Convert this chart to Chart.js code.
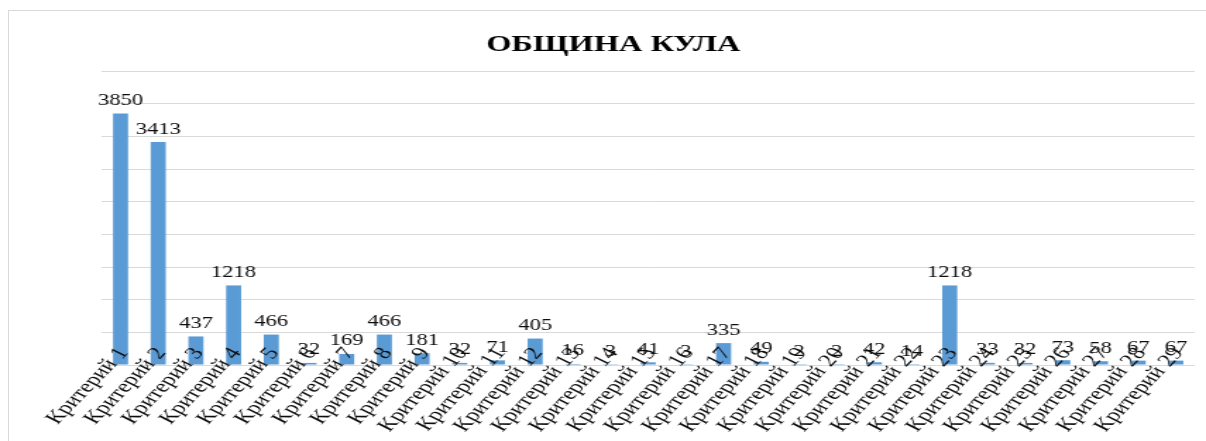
<!DOCTYPE html>
<html>
<head>
<meta charset="utf-8">
<script src="https://cdn.jsdelivr.net/npm/chart.js@4.4.1/dist/chart.umd.min.js"></script>
<style>
  html, body { margin: 0; padding: 0; background: #fff; overflow: hidden; }
  body { width: 1206px; height: 441px; position: relative; }
  #frame { position: absolute; left: 8px; top: 10px; width: 1400px; height: 600px; border: 1px solid #d9d9d9; }
  /* the original picture is stretched sideways, so the chart is drawn narrow and widened */
  #wrap { position: absolute; left: 0; top: 0; width: 855px; height: 441px; transform: scaleX(1.4105); transform-origin: 0 0; }
</style>
</head>
<body>
<div id="frame"></div>
<div id="wrap"><canvas id="myChart"></canvas></div>
<script>
const title = 'ОБЩИНА КУЛА';
const criteria = ['Критерий 1','Критерий 2','Критерий 3','Критерий 4','Критерий 5','Критерий 6','Критерий 7',
  'Критерий 8','Критерий 9','Критерий 10','Критерий 11','Критерий 12','Критерий 13','Критерий 14',
  'Критерий 15','Критерий 16','Критерий 17','Критерий 18','Критерий 19','Критерий 20','Критерий 21',
  'Критерий 22','Критерий 23','Критерий 24','Критерий 25','Критерий 26','Критерий 27','Критерий 28','Критерий 29'];
const values = [3850,3413,437,1218,466,32,169,466,181,32,71,405,16,3,41,3,335,49,2,2,42,14,1218,33,32,73,58,67,67];
const yMax = 4500;
const yStep = 500;

const serif = '"Liberation Serif", "Times New Roman", serif';

// value labels above the bars + category labels (they run up into the bars, so drawn here)
const barText = {
  id: 'barText',
  afterDraw(chart){
    const ctx = chart.ctx;
    const meta = chart.getDatasetMeta(0);
    const xScale = chart.scales.x;
    ctx.save();
    ctx.fillStyle = '#0d0d0d';

    ctx.font = '18px ' + serif;
    ctx.textAlign = 'right';
    ctx.textBaseline = 'middle';
    criteria.forEach((name, i) => {
      const x = xScale.getPixelForTick(i);
      ctx.save();
      ctx.translate(x + 2, xScale.top - 15);
      ctx.rotate(-55 * Math.PI / 180);
      ctx.fillText(name, 0, 0);
      ctx.restore();
    });

    ctx.font = '16px ' + serif;
    ctx.textAlign = 'center';
    ctx.textBaseline = 'alphabetic';
    meta.data.forEach((bar, i) => {
      ctx.fillText(String(values[i]), bar.x, bar.y - 8.5);
    });
    ctx.restore();
  }
};

function chartBar(){
  const ctx = document.getElementById('myChart');
  new Chart(ctx, {
    type: 'bar',
    data: {
      labels: criteria,
      datasets: [{
        data: values,
        backgroundColor: '#5b9bd5',
        barPercentage: 0.4,
        categoryPercentage: 1.0
      }]
    },
    options: {
      responsive: true,
      maintainAspectRatio: false,
      animation: false,
      layout: { padding: { left: 22.6, right: 8, top: 0, bottom: 0 } },
      plugins: {
        legend: { display: false },
        tooltip: { enabled: false },
        title: {
          display: true,
          text: title,
          color: '#000',
          font: { family: serif, size: 23, weight: 'bold' },
          padding: { top: 31, bottom: 12.4 }
        }
      },
      scales: {
        x: {
          grid: { display: false, drawTicks: false },
          border: { display: false },
          ticks: { display: false, autoSkip: false },
          afterFit(scale){ scale.height = 76; }
        },
        y: {
          min: 0,
          max: yMax,
          ticks: { display: false, stepSize: yStep },
          grid: { color: '#d9d9d9', lineWidth: 1, drawTicks: false },
          border: { display: false },
          afterFit(scale){ scale.width = 49.5; }
        }
      }
    },
    plugins: [barText]
  });
}

chartBar()
</script>
</body>
</html>
